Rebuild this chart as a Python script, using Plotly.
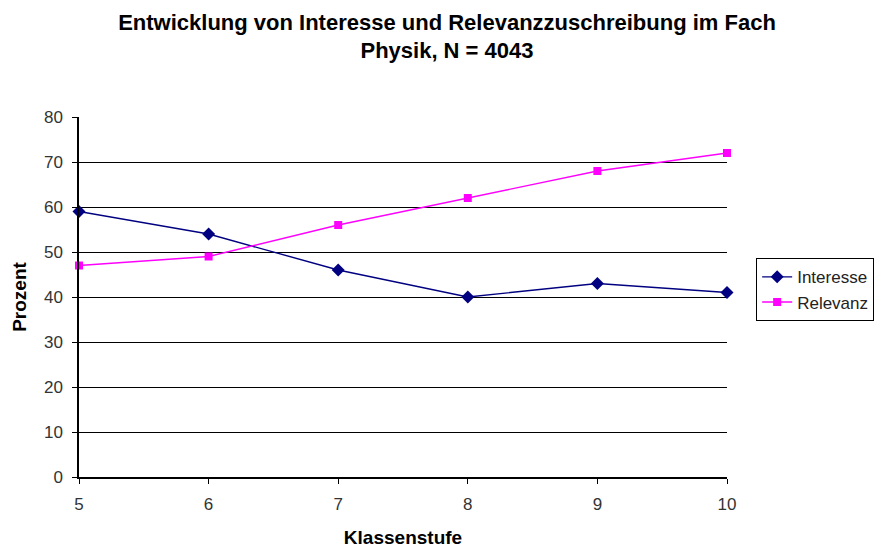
import plotly.graph_objects as go

klassen = [5, 6, 7, 8, 9, 10]
interesse = [59, 54, 46, 40, 43, 41]
relevanz = [47, 49, 56, 62, 68, 72]
y_ticks = [0, 10, 20, 30, 40, 50, 60, 70, 80]

font = "Liberation Sans, Arial, sans-serif"

fig = go.Figure()
fig.add_trace(go.Scatter(x=klassen, y=interesse, name="Interesse", mode="lines+markers",
                         line=dict(color="#000080", width=1.4),
                         marker=dict(symbol="diamond", size=10, color="#000080")))
fig.add_trace(go.Scatter(x=klassen, y=relevanz, name="Relevanz", mode="lines+markers",
                         line=dict(color="#FF00FF", width=1.4),
                         marker=dict(symbol="square", size=8, color="#FF00FF")))

fig.update_layout(
    width=894, height=548,
    margin=dict(l=79, r=167, t=117, b=71, autoexpand=False),
    paper_bgcolor="white", plot_bgcolor="white",
    font=dict(family=font, size=17, color="#333"),
    title=dict(text="<b>Entwicklung von Interesse und Relevanzzuschreibung im Fach<br>Physik, N = 4043</b>",
               x=0.5, xanchor="center", y=0.946, yanchor="middle",
               font=dict(family=font, size=22, color="#000")),
    xaxis=dict(range=[5, 10], tickvals=klassen, showgrid=False, showline=True,
               linecolor="#000", linewidth=1.5, ticks="outside", ticklen=5, tickcolor="#000",
               zeroline=False, tickfont=dict(size=17, color="#333"), ticklabelstandoff=6,
               automargin=False,
               title=dict(text="<b>Klassenstufe</b>", font=dict(size=19, color="#000"), standoff=20)),
    yaxis=dict(range=[0, 80], tickvals=y_ticks, showgrid=True, gridcolor="#000", gridwidth=1,
               showline=True, linecolor="#000", linewidth=1.5, ticks="outside", ticklen=5,
               tickcolor="#000", zeroline=False, tickfont=dict(size=17, color="#333"),
               ticklabelstandoff=6, automargin=False,
               title=dict(text="<b>Prozent</b>", font=dict(size=19, color="#000"), standoff=12)),
    legend=dict(x=1.045, y=0.52, xanchor="left", yanchor="middle",
                bordercolor="#000", borderwidth=1, bgcolor="white",
                font=dict(size=17, color="#222"), tracegroupgap=0, itemwidth=30),
    showlegend=True,
)
fig.update_traces(cliponaxis=False)

fig.write_html("out.html")
